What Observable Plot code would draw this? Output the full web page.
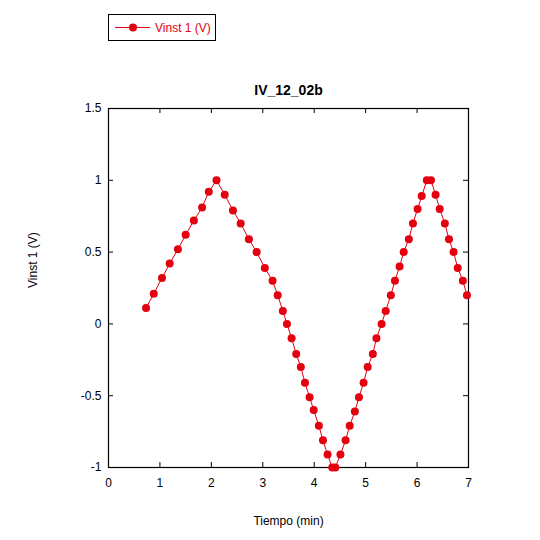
<!DOCTYPE html>
<html>
<head>
<meta charset="utf-8">
<script src="https://cdn.jsdelivr.net/npm/d3@7"></script>
<script src="https://cdn.jsdelivr.net/npm/@observablehq/plot@0.6"></script>
<style>
  body { margin: 0; background: #fff; font-family: "Liberation Sans", Arial, sans-serif; }
  #wrap { position: relative; width: 540px; height: 540px; }
  #legend { position: absolute; left: 108px; top: 14px; width: 106px; height: 25px; border: 1px solid #000; background: #fff; display: flex; align-items: center; }
  #legend span { color: #e3000f; font-size: 12px; margin-left: 2px; }
</style>
</head>
<body>
<div id="wrap">
  <div id="chart"></div>
  <div id="legend">
    <svg width="44" height="25"><line x1="6" y1="12.5" x2="41" y2="12.5" stroke="#e3000f" stroke-width="1"/><circle cx="24" cy="12.5" r="4" fill="#e3000f"/></svg>
    <span>Vinst 1 (V)</span>
  </div>
</div>
<script>
const time = [0.73, 0.88, 1.04, 1.19, 1.35, 1.50, 1.66, 1.82, 1.95, 2.10,
  2.26, 2.42, 2.57, 2.73, 2.88, 3.04, 3.19, 3.29, 3.39,
  3.47, 3.56, 3.65, 3.74, 3.82, 3.91, 3.99, 4.09, 4.17, 4.26, 4.35, 4.41,
  4.51, 4.61, 4.69, 4.79, 4.87, 4.96, 5.04, 5.14, 5.21, 5.31, 5.39,
  5.49, 5.57, 5.66, 5.74, 5.84, 5.92, 6.01, 6.09, 6.19, 6.27,
  6.36, 6.44, 6.54, 6.62, 6.71, 6.79, 6.89, 6.97];
const vinst = [0.11, 0.21, 0.32, 0.42, 0.52, 0.62, 0.72, 0.81, 0.92, 1.0,
  0.9, 0.79, 0.7, 0.59, 0.5, 0.39, 0.3, 0.2, 0.09,
  0, -0.1, -0.21, -0.3, -0.41, -0.51, -0.6, -0.71, -0.81, -0.91, -1, -1,
  -0.91, -0.81, -0.71, -0.61, -0.51, -0.41, -0.3, -0.21, -0.1, 0, 0.09,
  0.2, 0.3, 0.4, 0.5, 0.59, 0.7, 0.8, 0.89, 1.0, 1.0,
  0.9, 0.8, 0.7, 0.59, 0.5, 0.39, 0.3, 0.2];
const xTicks = [0, 1, 2, 3, 4, 5, 6, 7];
const yTicks = [-1, -0.5, 0, 0.5, 1, 1.5];
const title = "IV_12_02b";
const xLabel = "Tiempo (min)";
const yLabel = "Vinst 1 (V)";

const data = time.map((t, i) => ({t, v: vinst[i]}));
const red = "#e3000f";
const W = 540, H = 540, mL = 108, mR = 72, mT = 108, mB = 73;
const fh = H - mT - mB, fw = W - mL - mR, tk = 5;

const chart = Plot.plot({
  width: W, height: H,
  marginLeft: mL, marginRight: mR, marginTop: mT, marginBottom: mB,
  style: {fontFamily: "Liberation Sans, Arial, sans-serif", fontSize: "12px", color: "#000", background: "#fff"},
  x: {domain: [0, 7]},
  y: {domain: [-1, 1.5]},
  marks: [
    Plot.axisX(xTicks, {tickSize: 0, tickPadding: 11, tickFormat: d => String(d), label: null, fontSize: 12}),
    Plot.axisY(yTicks, {tickSize: 0, tickPadding: 7, tickFormat: d => String(d), label: null, fontSize: 12}),
    Plot.tickX(xTicks, {x: d => d, insetTop: fh - tk, stroke: "#000"}),
    Plot.tickX(xTicks, {x: d => d, insetBottom: fh - tk, stroke: "#000"}),
    Plot.tickY(yTicks, {y: d => d, insetRight: fw - tk, stroke: "#000"}),
    Plot.tickY(yTicks, {y: d => d, insetLeft: fw - tk, stroke: "#000"}),
    Plot.frame({stroke: "#000", strokeWidth: 1.2}),
    Plot.line(data, {x: "t", y: "v", stroke: red, strokeWidth: 1}),
    Plot.dot(data, {x: "t", y: "v", r: 4, fill: red, stroke: "none"}),
    Plot.text([title], {frameAnchor: "top", dy: -23, text: d => d, fontWeight: "bold", fontSize: 14, fill: "#000"}),
    Plot.text([xLabel], {frameAnchor: "bottom", dy: 57, text: d => d, fontSize: 12, fill: "#000"}),
    Plot.text([yLabel], {frameAnchor: "left", dx: -75, rotate: -90, text: d => d, fontSize: 12, fill: "#000"})
  ]
});
document.getElementById("chart").appendChild(chart);
</script>
</body>
</html>
